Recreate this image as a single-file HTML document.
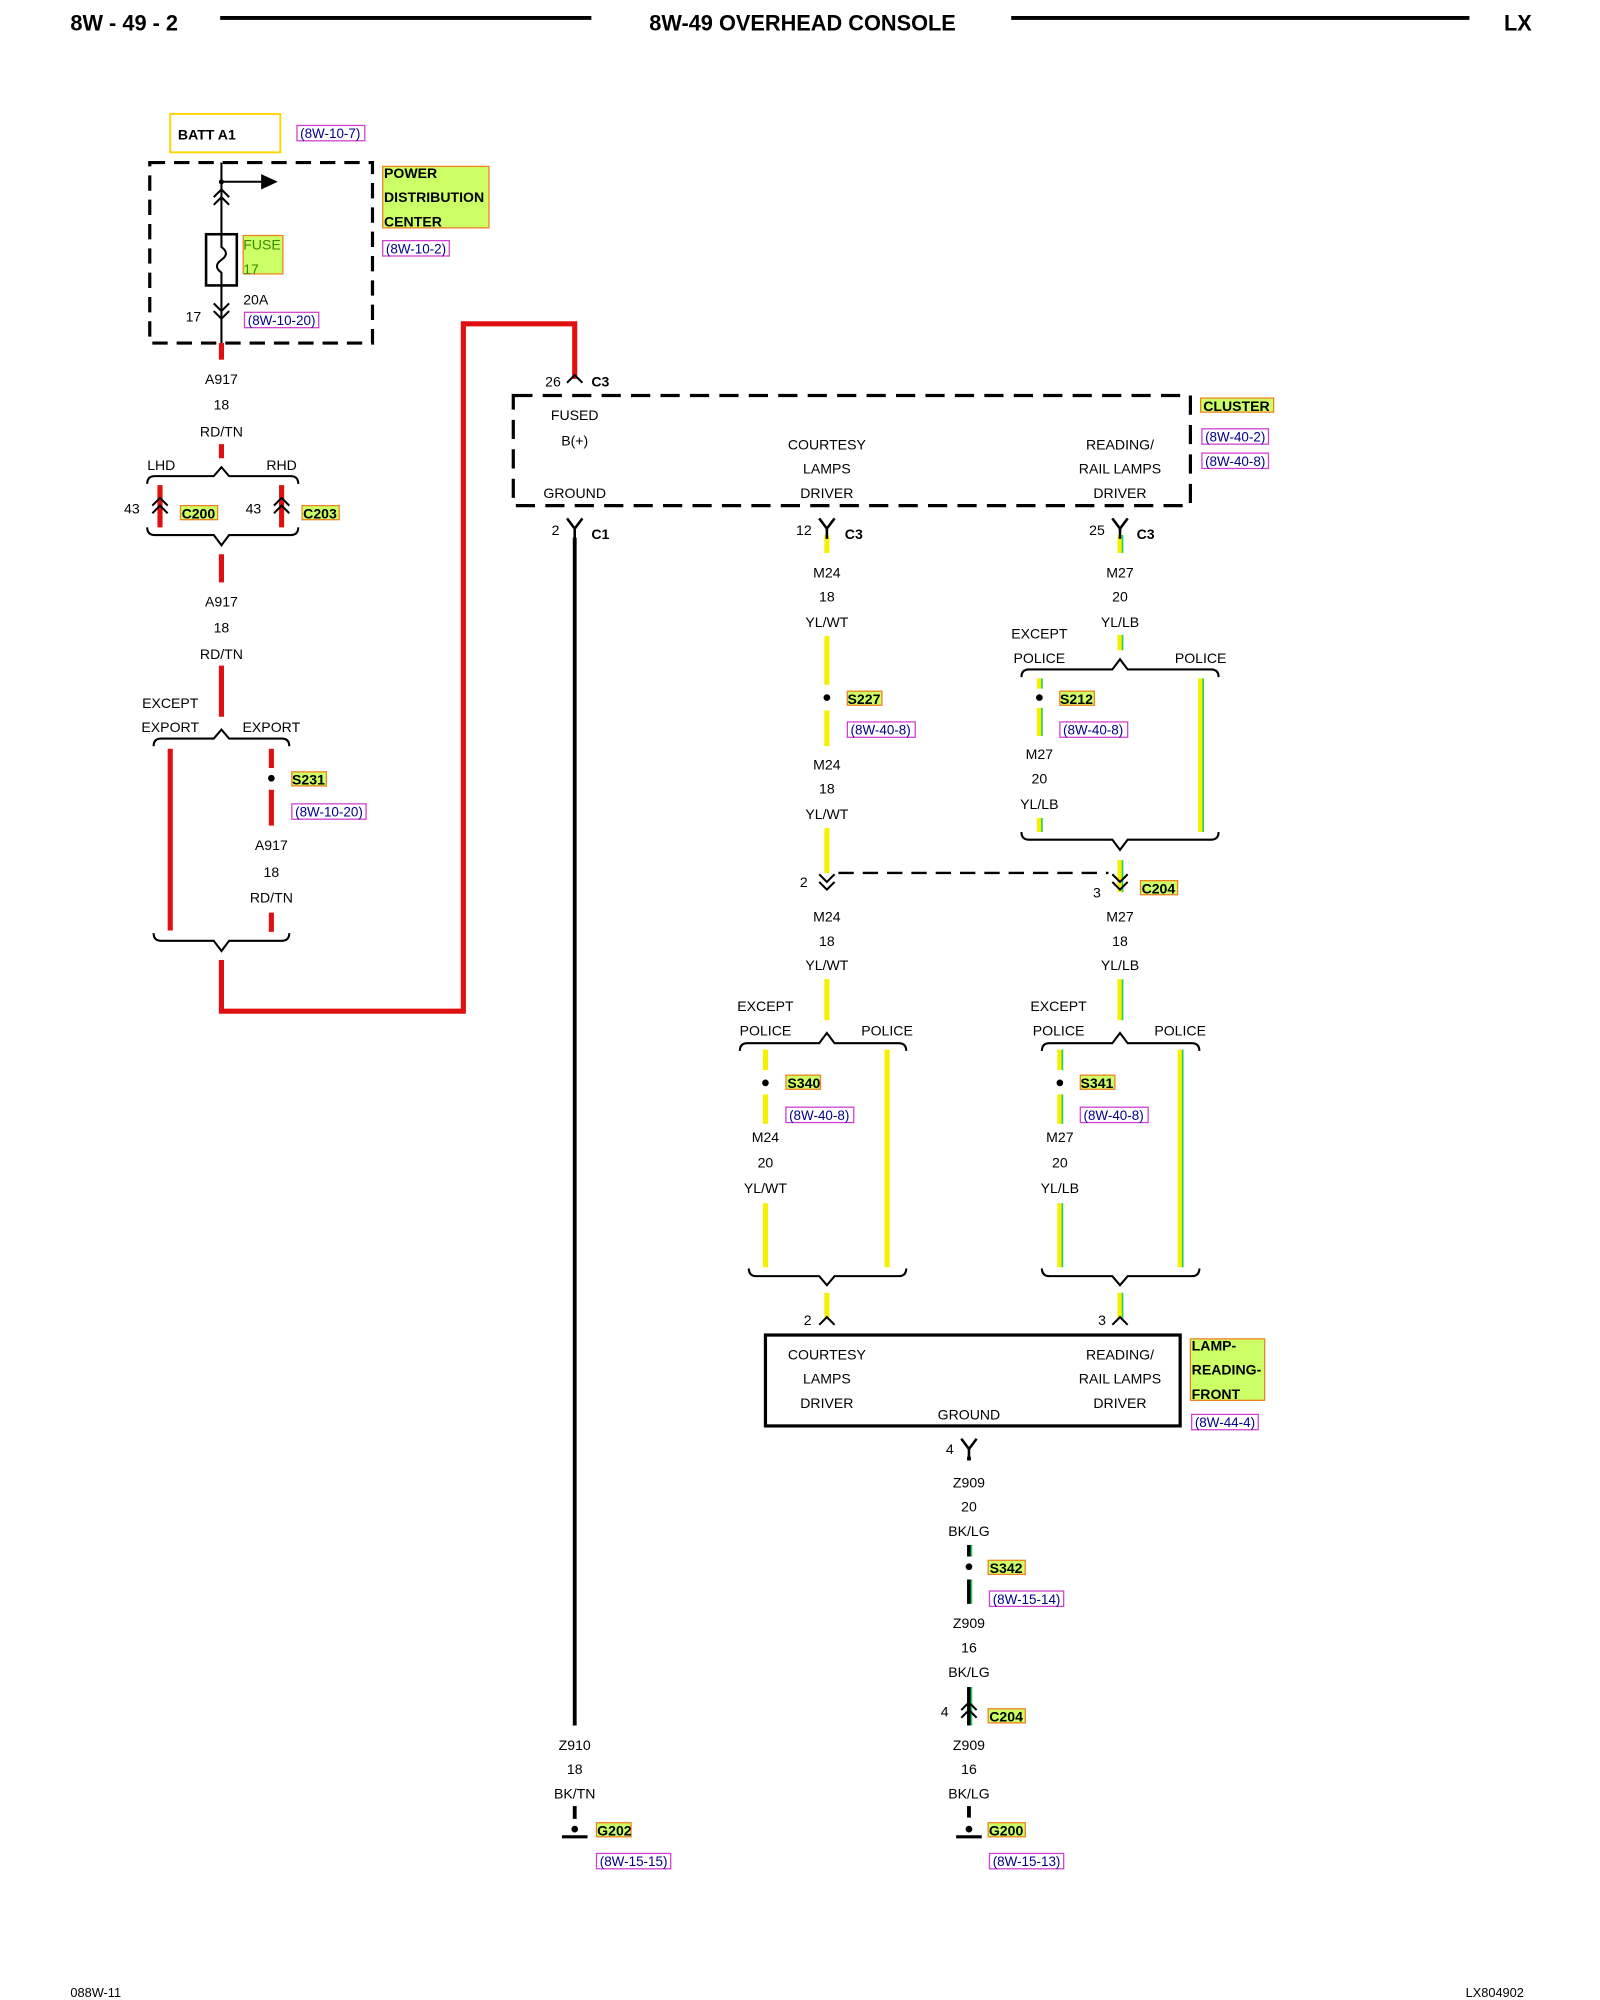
<!DOCTYPE html>
<html><head><meta charset="utf-8"><style>
html,body{margin:0;padding:0;background:#fff;}
svg{display:block;}
text{font-family:"Liberation Sans",sans-serif;}
</style></head><body>
<svg width="1600" height="2000" viewBox="0 0 1250 1562.5" xmlns="http://www.w3.org/2000/svg">
<defs>
<g id="chup"><polyline points="-6,6 0,0 6,6" fill="none" stroke="#000" stroke-width="1.6"/></g>
<g id="chdn"><polyline points="-6,-6 0,0 6,-6" fill="none" stroke="#000" stroke-width="1.6"/></g>
<g id="yc"><polyline points="-6,-8 0,0 6,-8" fill="none" stroke="#000" stroke-width="2"/><line x1="0" y1="0" x2="0" y2="8" stroke="#000" stroke-width="2"/></g>
</defs>
<rect width="1250" height="1562.5" fill="#fff"/>
<text x="55" y="24" font-size="17" font-weight="bold">8W - 49 - 2</text>
<line x1="172" y1="14" x2="462" y2="14" stroke="#000" stroke-width="3"/>
<text x="627" y="24" font-size="17" font-weight="bold" text-anchor="middle">8W-49 OVERHEAD CONSOLE</text>
<line x1="790" y1="14" x2="1148" y2="14" stroke="#000" stroke-width="3"/>
<text x="1175" y="24" font-size="17" font-weight="bold">LX</text>
<text x="55" y="1560" font-size="10">088W-11</text>
<text x="1145" y="1560" font-size="10">LX804902</text>

<g font-size="11" text-anchor="middle">
<rect x="133" y="89" width="86" height="30" fill="none" stroke="#ffd400" stroke-width="1.5"/>
<text x="139" y="109" font-weight="bold" text-anchor="start" font-size="11">BATT A1</text>
<rect x="232" y="98" width="53" height="12" fill="none" stroke="#d040d0"/><text x="258" y="108" fill="#00008b" font-size="10.5">(8W-10-7)</text>
<rect x="117" y="127" width="174" height="141" fill="none" stroke="#000" stroke-width="2.5" stroke-dasharray="12,7"/>
<line x1="173" y1="127" x2="173" y2="268" stroke="#000" stroke-width="1.6"/>
<circle cx="173" cy="142" r="2" fill="#000"/>
<line x1="173" y1="142" x2="206" y2="142" stroke="#000" stroke-width="1.6"/>
<polygon points="204,136 217,142 204,148" fill="#000"/>
<use href="#chup" x="173" y="148"/><use href="#chup" x="173" y="154"/>
<rect x="161" y="183" width="24" height="40" fill="#fff" stroke="#000" stroke-width="2"/>
<path d="M173,183 V193 Q180,198 173,203 Q166,208 173,213 V223" fill="none" stroke="#000" stroke-width="1.6"/>
<use href="#chdn" x="173" y="243"/><use href="#chdn" x="173" y="249"/>
<rect x="190" y="184" width="31" height="30" fill="#ccff66" stroke="#f08020"/>
<text x="190" y="195" text-anchor="start" fill="#3a8a00" font-size="11">FUSE</text>
<text x="190" y="214" text-anchor="start" fill="#3a8a00" font-size="11">17</text>
<text x="190" y="238" text-anchor="start">20A</text>
<text x="145" y="251" text-anchor="start">17</text>
<rect x="191" y="244" width="58" height="12" fill="none" stroke="#d040d0"/><text x="220" y="254" fill="#00008b" font-size="10.5">(8W-10-20)</text>
<rect x="299" y="130" width="83" height="48" fill="#ccff66" stroke="#f08020"/>
<text x="300" y="139" text-anchor="start" font-weight="bold">POWER</text>
<text x="300" y="158" text-anchor="start" font-weight="bold">DISTRIBUTION</text>
<text x="300" y="177" text-anchor="start" font-weight="bold">CENTER</text>
<rect x="299" y="188" width="52" height="12" fill="none" stroke="#d040d0"/><text x="325" y="198" fill="#00008b" font-size="10.5">(8W-10-2)</text>

<g stroke="#e01010" stroke-width="4" fill="none">
<line x1="173" y1="268" x2="173" y2="281"/>
<line x1="173" y1="347" x2="173" y2="358"/>
<line x1="125" y1="379" x2="125" y2="412"/>
<line x1="220" y1="379" x2="220" y2="412"/>
<line x1="173" y1="433" x2="173" y2="455"/>
<line x1="173" y1="520" x2="173" y2="560"/>
<line x1="133" y1="585" x2="133" y2="727"/>
<line x1="212" y1="585" x2="212" y2="600"/>
<line x1="212" y1="617" x2="212" y2="645"/>
<line x1="212" y1="713" x2="212" y2="728"/>
<polyline points="173,750 173,790 362,790 362,253 449,253 449,296"/>
</g>
<text x="173" y="300">A917</text><text x="173" y="320">18</text><text x="173" y="341">RD/TN</text>
<text x="126" y="367">LHD</text><text x="220" y="367">RHD</text>
<path d="M115,378 Q115,372 121,372 H167 L173,365 L179,372 H227 Q233,372 233,378" fill="none" stroke="#000" stroke-width="1.6"/>
<use href="#chup" x="125" y="389"/><use href="#chup" x="125" y="395"/>
<use href="#chup" x="220" y="389"/><use href="#chup" x="220" y="395"/>
<text x="103" y="401">43</text><text x="198" y="401">43</text>
<rect x="141" y="395" width="29" height="11" fill="#ccff66" stroke="#f08020"/><text x="155" y="405" font-weight="bold">C200</text>
<rect x="236" y="395" width="29" height="11" fill="#ccff66" stroke="#f08020"/><text x="250" y="405" font-weight="bold">C203</text>
<path d="M115,412 Q115,418 121,418 H167 L173,426 L179,418 H227 Q233,418 233,412" fill="none" stroke="#000" stroke-width="1.6"/>
<text x="173" y="474">A917</text><text x="173" y="494">18</text><text x="173" y="515">RD/TN</text>
<text x="133" y="553">EXCEPT</text><text x="133" y="572">EXPORT</text><text x="212" y="572">EXPORT</text>
<path d="M120,583 Q120,577 126,577 H167 L173,570 L179,577 H220 Q226,577 226,583" fill="none" stroke="#000" stroke-width="1.6"/>
<circle cx="212" cy="608" r="2.6" fill="#000"/>
<rect x="228" y="603" width="27" height="11" fill="#ccff66" stroke="#f08020"/><text x="241" y="613" font-weight="bold">S231</text>
<rect x="228" y="628" width="58" height="12" fill="none" stroke="#d040d0"/><text x="257" y="638" fill="#00008b" font-size="10.5">(8W-10-20)</text>
<text x="212" y="664">A917</text><text x="212" y="685">18</text><text x="212" y="705">RD/TN</text>
<path d="M120,729 Q120,735 126,735 H167 L173,743 L179,735 H220 Q226,735 226,729" fill="none" stroke="#000" stroke-width="1.6"/>

<use href="#chup" x="449" y="293"/>
<text x="432" y="302">26</text><text x="462" y="302" text-anchor="start" font-weight="bold">C3</text>
<rect x="401" y="309" width="529" height="86" fill="none" stroke="#000" stroke-width="2.5" stroke-dasharray="15,8"/>
<text x="449" y="328">FUSED</text><text x="449" y="348">B(+)</text><text x="449" y="389">GROUND</text>
<text x="646" y="351">COURTESY</text><text x="646" y="370">LAMPS</text><text x="646" y="389">DRIVER</text>
<text x="875" y="351">READING/</text><text x="875" y="370">RAIL LAMPS</text><text x="875" y="389">DRIVER</text>
<rect x="938" y="311" width="57" height="11" fill="#ccff66" stroke="#f08020"/><text x="966" y="321" font-weight="bold">CLUSTER</text>
<rect x="939" y="335" width="52" height="12" fill="none" stroke="#d040d0"/><text x="965" y="345" fill="#00008b" font-size="10.5">(8W-40-2)</text>
<rect x="939" y="354" width="52" height="12" fill="none" stroke="#d040d0"/><text x="965" y="364" fill="#00008b" font-size="10.5">(8W-40-8)</text>

<use href="#yc" x="449" y="413"/>
<text x="434" y="418">2</text><text x="462" y="421" text-anchor="start" font-weight="bold">C1</text>
<line x1="449" y1="420" x2="449" y2="1348" stroke="#000" stroke-width="3"/>
<text x="449" y="1367">Z910</text><text x="449" y="1386">18</text><text x="449" y="1405">BK/TN</text>
<line x1="449" y1="1411" x2="449" y2="1421" stroke="#000" stroke-width="3"/>
<circle cx="449" cy="1429" r="2.6" fill="#000"/><line x1="439" y1="1435" x2="459" y2="1435" stroke="#000" stroke-width="2.5"/>
<rect x="466" y="1424" width="27" height="11" fill="#ccff66" stroke="#f08020"/><text x="480" y="1434" font-weight="bold">G202</text>
<rect x="466" y="1448" width="58" height="12" fill="none" stroke="#d040d0"/><text x="495" y="1458" fill="#00008b" font-size="10.5">(8W-15-15)</text>

<g stroke="#f5f000" stroke-width="4">
<line x1="646" y1="418" x2="646" y2="432"/>
<line x1="646" y1="497" x2="646" y2="535"/>
<line x1="646" y1="555" x2="646" y2="583"/>
<line x1="646" y1="647" x2="646" y2="682"/>
<line x1="646" y1="765" x2="646" y2="797"/>
<line x1="598" y1="820" x2="598" y2="836"/>
<line x1="598" y1="855" x2="598" y2="878"/>
<line x1="598" y1="940" x2="598" y2="990"/>
<line x1="693" y1="820" x2="693" y2="990"/>
<line x1="646" y1="1010" x2="646" y2="1030"/>
</g>
<g stroke="#f5f000" stroke-width="4">
<line x1="875" y1="418" x2="875" y2="432"/>
<line x1="875" y1="496" x2="875" y2="508"/>
<line x1="812" y1="530" x2="812" y2="538"/>
<line x1="812" y1="553" x2="812" y2="575"/>
<line x1="812" y1="639" x2="812" y2="650"/>
<line x1="938" y1="530" x2="938" y2="650"/>
<line x1="875" y1="672" x2="875" y2="697"/>
<line x1="875" y1="765" x2="875" y2="797"/>
<line x1="828" y1="820" x2="828" y2="836"/>
<line x1="828" y1="855" x2="828" y2="878"/>
<line x1="828" y1="940" x2="828" y2="990"/>
<line x1="922" y1="820" x2="922" y2="990"/>
<line x1="875" y1="1010" x2="875" y2="1030"/>
</g>
<g stroke="#20d060" stroke-width="1.3">
<line x1="877" y1="418" x2="877" y2="432"/>
<line x1="877" y1="496" x2="877" y2="508"/>
<line x1="814" y1="530" x2="814" y2="538"/>
<line x1="814" y1="553" x2="814" y2="575"/>
<line x1="814" y1="639" x2="814" y2="650"/>
<line x1="940" y1="530" x2="940" y2="650"/>
<line x1="877" y1="672" x2="877" y2="697"/>
<line x1="877" y1="765" x2="877" y2="797"/>
<line x1="830" y1="820" x2="830" y2="836"/>
<line x1="830" y1="855" x2="830" y2="878"/>
<line x1="830" y1="940" x2="830" y2="990"/>
<line x1="924" y1="820" x2="924" y2="990"/>
<line x1="877" y1="1010" x2="877" y2="1030"/>
</g>

<use href="#yc" x="646" y="413"/>
<text x="628" y="418">12</text><text x="660" y="421" text-anchor="start" font-weight="bold">C3</text>
<text x="646" y="451">M24</text><text x="646" y="470">18</text><text x="646" y="490">YL/WT</text>
<circle cx="646" cy="545" r="2.6" fill="#000"/>
<rect x="662" y="540" width="27" height="11" fill="#ccff66" stroke="#f08020"/><text x="675" y="550" font-weight="bold">S227</text>
<rect x="662" y="564" width="53" height="12" fill="none" stroke="#d040d0"/><text x="688" y="574" fill="#00008b" font-size="10.5">(8W-40-8)</text>
<text x="646" y="601">M24</text><text x="646" y="620">18</text><text x="646" y="640">YL/WT</text>
<use href="#chdn" x="646" y="689"/><use href="#chdn" x="646" y="695"/>
<text x="628" y="693">2</text>
<line x1="655" y1="682" x2="866" y2="682" stroke="#000" stroke-width="1.8" stroke-dasharray="12,7"/>
<text x="646" y="720">M24</text><text x="646" y="739">18</text><text x="646" y="758">YL/WT</text>
<text x="598" y="790">EXCEPT</text><text x="598" y="809">POLICE</text><text x="693" y="809">POLICE</text>
<path d="M578,821 Q578,815 584,815 H640 L646,807 L652,815 H702 Q708,815 708,821" fill="none" stroke="#000" stroke-width="1.6"/>
<circle cx="598" cy="846" r="2.6" fill="#000"/>
<rect x="614" y="840" width="27" height="11" fill="#ccff66" stroke="#f08020"/><text x="628" y="850" font-weight="bold">S340</text>
<rect x="614" y="865" width="53" height="12" fill="none" stroke="#d040d0"/><text x="640" y="875" fill="#00008b" font-size="10.5">(8W-40-8)</text>
<text x="598" y="892">M24</text><text x="598" y="912">20</text><text x="598" y="932">YL/WT</text>
<path d="M585,991 Q585,997 591,997 H640 L646,1004 L652,997 H702 Q708,997 708,991" fill="none" stroke="#000" stroke-width="1.6"/>
<use href="#chup" x="646" y="1029"/><text x="631" y="1035">2</text>

<use href="#yc" x="875" y="413"/>
<text x="857" y="418">25</text><text x="888" y="421" text-anchor="start" font-weight="bold">C3</text>
<text x="875" y="451">M27</text><text x="875" y="470">20</text><text x="875" y="490">YL/LB</text>
<text x="812" y="499">EXCEPT</text><text x="812" y="518">POLICE</text><text x="938" y="518">POLICE</text>
<path d="M798,529 Q798,523 804,523 H869 L875,515 L881,523 H946 Q952,523 952,529" fill="none" stroke="#000" stroke-width="1.6"/>
<circle cx="812" cy="545" r="2.6" fill="#000"/>
<rect x="828" y="540" width="27" height="11" fill="#ccff66" stroke="#f08020"/><text x="841" y="550" font-weight="bold">S212</text>
<rect x="828" y="564" width="53" height="12" fill="none" stroke="#d040d0"/><text x="854" y="574" fill="#00008b" font-size="10.5">(8W-40-8)</text>
<text x="812" y="593">M27</text><text x="812" y="612">20</text><text x="812" y="632">YL/LB</text>
<path d="M798,650 Q798,656 804,656 H869 L875,664 L881,656 H946 Q952,656 952,650" fill="none" stroke="#000" stroke-width="1.6"/>
<use href="#chdn" x="875" y="689"/><use href="#chdn" x="875" y="695"/>
<text x="857" y="701">3</text>
<rect x="891" y="688" width="29" height="11" fill="#ccff66" stroke="#f08020"/><text x="905" y="698" font-weight="bold">C204</text>
<text x="875" y="720">M27</text><text x="875" y="739">18</text><text x="875" y="758">YL/LB</text>
<text x="827" y="790">EXCEPT</text><text x="827" y="809">POLICE</text><text x="922" y="809">POLICE</text>
<path d="M814,821 Q814,815 820,815 H869 L875,807 L881,815 H931 Q937,815 937,821" fill="none" stroke="#000" stroke-width="1.6"/>
<circle cx="828" cy="846" r="2.6" fill="#000"/>
<rect x="844" y="840" width="27" height="11" fill="#ccff66" stroke="#f08020"/><text x="857" y="850" font-weight="bold">S341</text>
<rect x="844" y="865" width="53" height="12" fill="none" stroke="#d040d0"/><text x="870" y="875" fill="#00008b" font-size="10.5">(8W-40-8)</text>
<text x="828" y="892">M27</text><text x="828" y="912">20</text><text x="828" y="932">YL/LB</text>
<path d="M814,991 Q814,997 820,997 H869 L875,1004 L881,997 H931 Q937,997 937,991" fill="none" stroke="#000" stroke-width="1.6"/>
<use href="#chup" x="875" y="1029"/><text x="861" y="1035">3</text>

<rect x="598" y="1043" width="324" height="71" fill="none" stroke="#000" stroke-width="2.5"/>
<text x="646" y="1062">COURTESY</text><text x="646" y="1081">LAMPS</text><text x="646" y="1100">DRIVER</text>
<text x="875" y="1062">READING/</text><text x="875" y="1081">RAIL LAMPS</text><text x="875" y="1100">DRIVER</text>
<text x="757" y="1109">GROUND</text>
<rect x="930" y="1046" width="58" height="48" fill="#ccff66" stroke="#f08020"/>
<text x="931" y="1055" text-anchor="start" font-weight="bold">LAMP-</text>
<text x="931" y="1074" text-anchor="start" font-weight="bold">READING-</text>
<text x="931" y="1093" text-anchor="start" font-weight="bold">FRONT</text>
<rect x="931" y="1105" width="52" height="12" fill="none" stroke="#d040d0"/><text x="957" y="1115" fill="#00008b" font-size="10.5">(8W-44-4)</text>

<use href="#yc" x="757" y="1132"/>
<text x="742" y="1136">4</text>
<g stroke="#000" stroke-width="3"><line x1="757" y1="1138" x2="757" y2="1141"/><line x1="757" y1="1207" x2="757" y2="1216"/><line x1="757" y1="1234" x2="757" y2="1253"/><line x1="757" y1="1318" x2="757" y2="1348"/><line x1="757" y1="1411" x2="757" y2="1420"/></g>
<g stroke="#20d060" stroke-width="1.2"><line x1="759" y1="1207" x2="759" y2="1216"/><line x1="759" y1="1234" x2="759" y2="1253"/><line x1="759" y1="1318" x2="759" y2="1348"/></g>
<text x="757" y="1162">Z909</text><text x="757" y="1181">20</text><text x="757" y="1200">BK/LG</text>
<circle cx="757" cy="1224" r="2.6" fill="#000"/>
<rect x="772" y="1219" width="29" height="11" fill="#ccff66" stroke="#f08020"/><text x="786" y="1229" font-weight="bold">S342</text>
<rect x="773" y="1243" width="58" height="12" fill="none" stroke="#d040d0"/><text x="802" y="1253" fill="#00008b" font-size="10.5">(8W-15-14)</text>
<text x="757" y="1272">Z909</text><text x="757" y="1291">16</text><text x="757" y="1310">BK/LG</text>
<use href="#chup" x="757" y="1330"/><use href="#chup" x="757" y="1336"/>
<text x="738" y="1341">4</text>
<rect x="772" y="1335" width="29" height="11" fill="#ccff66" stroke="#f08020"/><text x="786" y="1345" font-weight="bold">C204</text>
<text x="757" y="1367">Z909</text><text x="757" y="1386">16</text><text x="757" y="1405">BK/LG</text>
<circle cx="757" cy="1429" r="2.6" fill="#000"/><line x1="747" y1="1435" x2="767" y2="1435" stroke="#000" stroke-width="2.5"/>
<rect x="772" y="1424" width="29" height="11" fill="#ccff66" stroke="#f08020"/><text x="786" y="1434" font-weight="bold">G200</text>
<rect x="773" y="1448" width="58" height="12" fill="none" stroke="#d040d0"/><text x="802" y="1458" fill="#00008b" font-size="10.5">(8W-15-13)</text>
</g>
</svg>
</body></html>
